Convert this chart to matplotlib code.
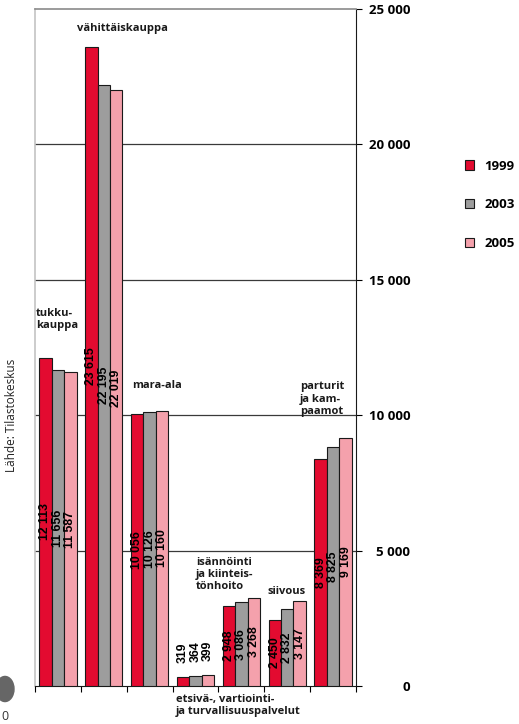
import matplotlib
matplotlib.use('Agg')
import matplotlib.pyplot as plt
from matplotlib.patches import Circle

# Branches (labels as printed), years and counts
CATEGORIES = ["tukku-\nkauppa", "vähittäiskauppa", "mara-ala",
              "etsivä-, vartiointi-\nja turvallisuuspalvelut",
              "isännöinti\nja kiinteis-\ntönhoito", "siivous",
              "parturit\nja kam-\npaamot"]
YEARS = ["1999", "2003", "2005"]
V1999 = [12113, 23615, 10056, 319, 2948, 2450, 8369]
V2003 = [11656, 22195, 10126, 364, 3086, 2832, 8825]
V2005 = [11587, 22019, 10160, 399, 3268, 3147, 9169]
Y_TICKS = [0, 5000, 10000, 15000, 20000, 25000]

COLORS = ['#e30b30', '#9d9d9d', '#f4a1ac']

# where each category name sits (x in category units, y in data units)
LABEL_POS = [(-0.48, 13950), (0.42, 24480), (1.62, 11300), (2.57, -280),
             (3.01, 4780), (4.56, 3700), (5.28, 11250)]

FONT = ['Open Sans', 'DejaVu Sans']
plt.rcParams['font.family'] = FONT


def fmt(v):
    return f"{v:,}".replace(",", " ")


fig = plt.figure(figsize=(5.19, 7.24), dpi=100)
ax = fig.add_axes([35 / 519, 38 / 724, 321 / 519, 677 / 724])

n = len(CATEGORIES)
width = 0.272
series = [V1999, V2003, V2005]
for k, (vals, col, yr) in enumerate(zip(series, COLORS, YEARS)):
    xs = [i + (k - 1) * width for i in range(n)]
    ax.bar(xs, vals, width, color=col, edgecolor='#1a1a1a', linewidth=0.8,
           label=yr, zorder=3)
    for x, v in zip(xs, vals):
        if v < 1000:
            ax.text(x, v + 520, fmt(v), rotation=90, ha='center', va='bottom',
                    fontsize=8.8, fontweight='bold', family='Liberation Sans', zorder=4)
        else:
            ax.text(x, v / 2, fmt(v), rotation=90, ha='center', va='center',
                    fontsize=8.8, fontweight='bold', family='Liberation Sans', zorder=4)

for name, (lx, ly) in zip(CATEGORIES, LABEL_POS):
    ax.text(lx, ly, name, ha='left', va='top', fontsize=8, fontweight='bold',
            color='#1a1a1a', linespacing=1.15, clip_on=False, zorder=5)

ax.set_xlim(-0.5, n - 0.5)
ax.set_ylim(0, 25000)

# gridlines
for t in Y_TICKS[1:-1]:
    ax.axhline(t, color='#3a3a3a', linewidth=0.9, zorder=1)

ax.spines['left'].set_color('#c4c4c4')
ax.spines['left'].set_linewidth(1.2)
ax.spines['top'].set_color('#8a8a8a')
ax.spines['top'].set_linewidth(1.2)
ax.spines['right'].set_color('#1a1a1a')
ax.spines['bottom'].set_color('#1a1a1a')

ax.set_yticks(Y_TICKS)
ax.set_yticklabels([fmt(t) for t in Y_TICKS])
ax.tick_params(axis='y', left=False, labelleft=False, right=True, labelright=True,
               length=4, width=0.8, pad=35, labelsize=9.5)
for lbl in ax.get_yticklabels():
    lbl.set_horizontalalignment('right')
    lbl.set_fontweight('bold')

ax.set_xticks([i - 0.5 for i in range(n + 1)])
ax.set_xticklabels([])
ax.tick_params(axis='x', length=4, width=0.8, direction='out')

leg = ax.legend(loc='upper left', bbox_to_anchor=(458 / 519, 1 - 153 / 724),
                bbox_transform=fig.transFigure, frameon=False, fontsize=9.5,
                handlelength=0.7, handleheight=0.7, handletextpad=0.8,
                labelspacing=1.95, borderpad=0)
for t in leg.get_texts():
    t.set_fontweight('bold')

fig.text(12 / 519, 1 - 415 / 724, "Lähde: Tilastokeskus", rotation=90,
         ha='center', va='center', fontsize=8.5, color='#222222')

# page-number remnant in the corner
fig.patches.append(Circle((5 / 519, 1 - 689 / 724), 9 / 519, color='#666666',
                          transform=fig.transFigure, figure=fig))
fig.text(1 / 519, 1 - 716 / 724, "0", ha='left', va='center', fontsize=9,
         color='#333333')

fig.savefig('out.png', dpi=100)
